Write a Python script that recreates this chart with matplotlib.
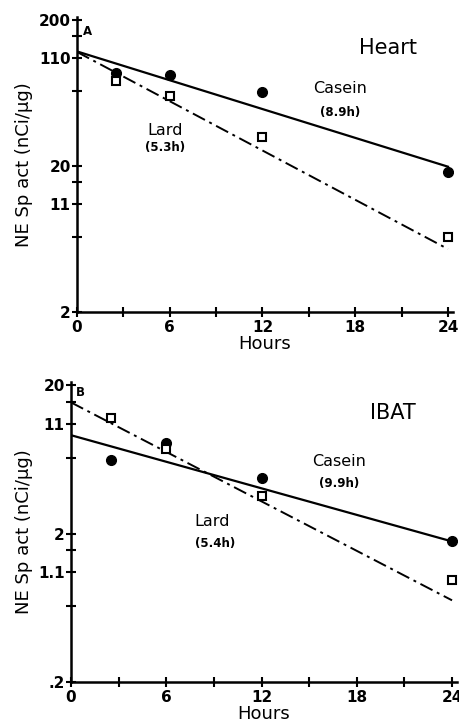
import matplotlib
matplotlib.use("Agg")
import matplotlib.pyplot as plt
import numpy as np

# ---- data ----
hours = [2.5, 6, 12, 24]

heart_casein = [86.7, 84, 64, 18.2]
heart_lard = [76, 60, 31.6, 6.5]
heart_casein_fit = [122, 19.8]   # values at t=0 and t=24
heart_lard_fit = [121, 5.4]

ibat_casein = [6.3, 8.2, 4.7, 1.77]
ibat_lard = [12.0, 7.4, 3.6, 0.98]
ibat_casein_fit = [9.2, 1.77]
ibat_lard_fit = [15.3, 0.71]

fit_hours = [0, 24]

x_ticks = [0, 6, 12, 18, 24]
x_minor = [3, 9, 15, 21]

heart_yticks = [2, 6.5, 11, 15.5, 20, 65, 110, 155, 200]
heart_ylabels = ["2", "", "11", "", "20", "", "110", "", "200"]
ibat_yticks = [0.2, 0.65, 1.1, 1.55, 2, 6.5, 11, 15.5, 20]
ibat_ylabels = [".2", "", "1.1", "", "2", "", "11", "", "20"]

heart_halflife = ["(8.9h)", "(5.3h)"]
ibat_halflife = ["(9.9h)", "(5.4h)"]

W, H = 459, 721
fig = plt.figure(figsize=(W / 100, H / 100), dpi=100)
plt.rcParams['font.family'] = ['DejaVu Sans']


def px_axes(left, right, top, bottom):
    return fig.add_axes([left / W, 1 - bottom / H, (right - left) / W, (bottom - top) / H])


def style(ax, ylim, yt, yl):
    ax.set_yscale("log")
    ax.set_xlim(0, 24.3)
    ax.set_ylim(*ylim)
    for s in ["top", "right"]:
        ax.spines[s].set_visible(False)
    for s in ["left", "bottom"]:
        ax.spines[s].set_linewidth(1.8)
    ax.set_xticks(x_ticks)
    ax.set_xticks(x_minor, minor=True)
    ax.set_xticklabels([str(v) for v in x_ticks], fontsize=11, fontweight="bold")
    ax.yaxis.set_minor_locator(matplotlib.ticker.NullLocator())
    ax.set_yticks(yt)
    ax.set_yticklabels(yl, fontsize=11, fontweight="bold")
    ax.yaxis.set_minor_formatter(matplotlib.ticker.NullFormatter())
    ax.tick_params(axis="both", which="both", direction="inout", length=7, width=1.5, pad=1)
    ax.tick_params(axis="x", pad=2)
    ax.set_xlabel("Hours", fontsize=13, labelpad=0)
    ax.set_ylabel("NE Sp act (nCi/\u00b5g)", fontsize=13, labelpad=4)


# Top panel: Heart
ax1 = px_axes(77, 452.6, 17, 312)
style(ax1, (2, 210), heart_yticks, heart_ylabels)
ax1.plot(fit_hours, heart_casein_fit, color="black", lw=1.6)
ax1.plot(fit_hours, heart_lard_fit, color="black", lw=1.4, ls=(0, (7, 2.5, 1.5, 2.5)))
ax1.plot(hours, heart_casein, "o", color="black", ms=7)
ax1.plot(hours, heart_lard, "s", mfc="white", mec="black", mew=1.5, ms=5.5)
ax1.text(0.65, 166, "A", fontsize=8.5, fontweight="bold", ha="center", va="center")
ax1.text(20.1, 129, "Heart", fontsize=15, ha="center", va="center")
ax1.text(17.0, 68, "Casein", fontsize=11.5, ha="center", va="center")
ax1.text(17.0, 46.8, heart_halflife[0], fontsize=8.5, fontweight="bold", ha="center", va="center")
ax1.text(5.7, 35.3, "Lard", fontsize=11.5, ha="center", va="center")
ax1.text(5.7, 27, heart_halflife[1], fontsize=8.5, fontweight="bold", ha="center", va="center")

# Bottom panel: IBAT
ax2 = px_axes(71, 456.8, 382, 682)
style(ax2, (0.2, 21), ibat_yticks, ibat_ylabels)
ax2.plot(fit_hours, ibat_casein_fit, color="black", lw=1.6)
ax2.plot(fit_hours, ibat_lard_fit, color="black", lw=1.4, ls=(0, (7, 2.5, 1.5, 2.5)))
ax2.plot(hours, ibat_casein, "o", color="black", ms=7)
ax2.plot(hours, ibat_lard, "s", mfc="white", mec="black", mew=1.5, ms=5.5)
ax2.text(0.57, 17.8, "B", fontsize=8.5, fontweight="bold", ha="center", va="center")
ax2.text(20.3, 12.9, "IBAT", fontsize=15, ha="center", va="center")
ax2.text(16.9, 6.1, "Casein", fontsize=11.5, ha="center", va="center")
ax2.text(16.9, 4.34, ibat_halflife[0], fontsize=8.5, fontweight="bold", ha="center", va="center")
ax2.text(8.9, 2.41, "Lard", fontsize=11.5, ha="center", va="center")
ax2.text(9.1, 1.71, ibat_halflife[1], fontsize=8.5, fontweight="bold", ha="center", va="center")

fig.savefig("out.png", dpi=100)
